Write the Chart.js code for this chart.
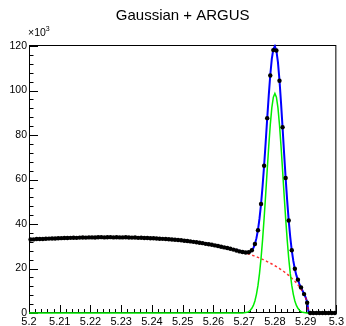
<!DOCTYPE html>
<html>
<head>
<meta charset="utf-8">
<script src="https://cdn.jsdelivr.net/npm/chart.js@4.4.1/dist/chart.umd.min.js"></script>
<style>
  html, body { margin: 0; padding: 0; background: #fff; }
  #wrap { width: 346px; height: 326px; }
</style>
</head>
<body>
<div id="wrap"><canvas id="myChart" width="346" height="326"></canvas></div>
<script>
// histogram: 100 bins of width 0.001 between 5.2 and 5.3, events in units of 1e3
const xMin = 5.2;
const binWidth = 0.001;
const counts = [
  33.05, 33.1, 33.25, 33.3, 33.3, 33.4, 33.45, 33.5, 33.5, 33.6,
  33.65, 33.7, 33.7, 33.8, 33.85, 33.8, 33.9, 33.95, 33.9, 34.0,
  34.0, 33.95, 34.05, 34.1, 34.0, 34.05, 34.1, 34.0, 34.05, 34.0,
  34.0, 34.05, 33.95, 33.9, 33.95, 33.8, 33.85, 33.7, 33.7, 33.6,
  33.6, 33.5, 33.4, 33.35, 33.25, 33.15, 33.05, 32.95, 32.8, 32.7,
  32.5, 32.4, 32.2, 32.0, 31.8, 31.6, 31.4, 31.1, 30.9, 30.7,
  30.4, 30.1, 29.8, 29.5, 29.2, 28.9, 28.5, 28.1, 27.7, 27.4,
  27.2, 27.3, 28.2, 31.0, 37.2, 49.0, 66.2, 87.6, 106.8, 118.2,
  118.0, 104.4, 83.5, 60.7, 41.6, 28.2, 19.9, 15.0, 11.5, 8.5,
  4.6, 0, 0, 0, 0, 0, 0, 0, 0, 0
];

// fitted curves
const curveX = [
  5.200, 5.202, 5.204, 5.206, 5.208, 5.210, 5.212, 5.214, 5.216, 5.218,
  5.220, 5.222, 5.224, 5.226, 5.228, 5.230, 5.232, 5.234, 5.236, 5.238,
  5.240, 5.242, 5.244, 5.246, 5.248, 5.250, 5.252, 5.254, 5.256, 5.258,
  5.260, 5.262, 5.264, 5.266,
  5.2665, 5.2670, 5.2675, 5.2680, 5.2685, 5.2690, 5.2695, 5.2700, 5.2705, 5.2710,
  5.2715, 5.2720, 5.2725, 5.2730, 5.2735, 5.2740, 5.2745, 5.2750, 5.2755, 5.2760,
  5.2765, 5.2770, 5.2775, 5.2780, 5.2785, 5.2790, 5.2795, 5.2800, 5.2805, 5.2810,
  5.2815, 5.2820, 5.2825, 5.2830, 5.2835, 5.2840, 5.2845, 5.2850, 5.2855, 5.2860,
  5.2865, 5.2870, 5.2875, 5.2880, 5.2885, 5.2890, 5.2895, 5.2900, 5.2905, 5.2910,
  5.2915, 5.292, 5.294, 5.296, 5.298, 5.300
];
const totalY = [
  33.0, 33.15, 33.3, 33.4, 33.5, 33.6, 33.7, 33.8, 33.85, 33.9,
  34.0, 34.0, 34.05, 34.05, 34.05, 34.0, 33.95, 33.9, 33.8, 33.7,
  33.6, 33.45, 33.3, 33.1, 32.9, 32.6, 32.3, 31.9, 31.5, 31.1,
  30.6, 30.05, 29.45, 28.8,
  28.6, 28.45, 28.3, 28.1, 27.9, 27.65, 27.5, 27.35, 27.2, 27.1,
  27.15, 27.5, 28.15, 29.2, 30.95, 33.65, 37.4, 42.5, 49.0, 57.1,
  66.35, 76.65, 87.4, 97.75, 107.0, 114.25, 118.65, 119.95, 117.85, 112.65,
  104.6, 94.5, 83.35, 71.75, 60.65, 50.5, 41.5, 34.1, 28.05, 23.4,
  19.7, 16.9, 14.8, 13.0, 11.4, 10.0, 8.65, 7.05, 4.95, 0,
  0, 0, 0, 0, 0, 0
];
const argusY = [
  33.0, 33.15, 33.3, 33.4, 33.5, 33.6, 33.7, 33.8, 33.85, 33.9,
  34.0, 34.0, 34.05, 34.05, 34.05, 34.0, 33.95, 33.9, 33.8, 33.7,
  33.6, 33.45, 33.3, 33.1, 32.9, 32.6, 32.3, 31.9, 31.5, 31.1,
  30.6, 30.05, 29.45, 28.8,
  28.6, 28.45, 28.3, 28.1, 27.9, 27.65, 27.45, 27.25, 27.0, 26.8,
  26.55, 26.3, 26.05, 25.8, 25.55, 25.25, 25.0, 24.7, 24.4, 24.1,
  23.75, 23.45, 23.1, 22.75, 22.4, 22.05, 21.65, 21.25, 20.85, 20.45,
  20.0, 19.5, 19.05, 18.55, 18.05, 17.5, 16.9, 16.3, 15.65, 15.0,
  14.3, 13.5, 12.7, 11.8, 10.8, 9.7, 8.45, 6.95, 4.9, 0,
  0, 0, 0, 0, 0, 0
];
const gaussY = [
  0, 0, 0, 0, 0, 0, 0, 0, 0, 0,
  0, 0, 0, 0, 0, 0, 0, 0, 0, 0,
  0, 0, 0, 0, 0, 0, 0, 0, 0, 0,
  0, 0, 0, 0,
  0, 0, 0, 0, 0, 0, 0.05, 0.1, 0.2, 0.3,
  0.6, 1.2, 2.1, 3.4, 5.4, 8.4, 12.4, 17.8, 24.6, 33.0,
  42.6, 53.2, 64.3, 75.0, 84.6, 92.2, 97.0, 98.7, 97.0, 92.2,
  84.6, 75.0, 64.3, 53.2, 42.6, 33.0, 24.6, 17.8, 12.4, 8.4,
  5.4, 3.4, 2.1, 1.2, 0.6, 0.3, 0.2, 0.1, 0.05, 0,
  0, 0, 0, 0, 0, 0
];

const xTickValues = [5.2, 5.21, 5.22, 5.23, 5.24, 5.25, 5.26, 5.27, 5.28, 5.29, 5.3];
const yTickValues = [0, 20, 40, 60, 80, 100, 120];
const chartTitle = 'Gaussian + ARGUS';

const family = "'Liberation Sans', Arial, Helvetica, sans-serif";

const binPoints = counts.map((c, i) => ({ x: xMin + (i + 0.5) * binWidth, y: c }));
const toPts = ys => curveX.map((x, i) => ({ x: x, y: ys[i] }));

// ROOT style frame with ticks pointing inwards, title and the x10^3 tag
const rootFrame = {
  id: 'rootFrame',
  beforeDatasetsDraw(chart) {
    const { ctx, chartArea: a, scales: { x, y } } = chart;
    ctx.save();
    ctx.strokeStyle = '#000';
    ctx.lineWidth = 1;
    ctx.strokeRect(a.left + 0.5, a.top + 0.5, a.right - a.left - 1, a.bottom - a.top - 1);
    ctx.beginPath();
    xTickValues.forEach((v, i) => {
      const px = Math.round(x.getPixelForValue(v)) + 0.5;
      ctx.moveTo(px, a.bottom);
      ctx.lineTo(px, a.bottom - 8);
      if (i < xTickValues.length - 1) {
        const step = (xTickValues[i + 1] - v) / 5;
        for (let k = 1; k < 5; k++) {
          const m = Math.round(x.getPixelForValue(v + k * step)) + 0.5;
          ctx.moveTo(m, a.bottom);
          ctx.lineTo(m, a.bottom - 4);
        }
      }
    });
    yTickValues.forEach((v, i) => {
      const py = Math.round(y.getPixelForValue(v)) + 0.5;
      ctx.moveTo(a.left, py);
      ctx.lineTo(a.left + 9, py);
      if (i < yTickValues.length - 1) {
        const step = (yTickValues[i + 1] - v) / 5;
        for (let k = 1; k < 5; k++) {
          const m = Math.round(y.getPixelForValue(v + k * step)) + 0.5;
          ctx.moveTo(a.left, m);
          ctx.lineTo(a.left + 4.5, m);
        }
      }
    });
    ctx.stroke();
    ctx.restore();
  },
  afterDraw(chart) {
    const { ctx, chartArea: a } = chart;
    ctx.save();
    ctx.fillStyle = '#000';
    ctx.textBaseline = 'alphabetic';
    ctx.textAlign = 'center';
    ctx.font = '15px ' + family;
    ctx.fillText(chartTitle, (a.left + a.right) / 2, 20);
    ctx.textAlign = 'left';
    ctx.font = '10.5px ' + family;
    ctx.fillText('\u00d710', a.left - 1, 36);
    const w = ctx.measureText('\u00d710').width;
    ctx.font = '7px ' + family;
    ctx.fillText('3', a.left - 1 + w, 31);
    ctx.restore();
  }
};

const ctx = document.getElementById('myChart').getContext('2d');
const myChart = new Chart(ctx, {
  type: 'scatter',
  data: {
    datasets: [
      { type: 'scatter', label: 'data', data: binPoints, pointRadius: 2.2, pointBackgroundColor: '#000',
        pointBorderWidth: 0, order: 0, clip: false },
      { type: 'scatter', label: 'bins', data: binPoints, pointStyle: 'line', pointRadius: 1.54,
        pointBorderColor: '#000', pointBorderWidth: 1.5, order: 1, clip: false },
      { type: 'line', label: 'gauss', data: toPts(gaussY), borderColor: '#00ee00', borderWidth: 1.5,
        pointRadius: 0, tension: 0, order: 2, clip: false },
      { type: 'line', label: 'argus', data: toPts(argusY), borderColor: 'rgba(255,0,0,0.8)', borderWidth: 1.5,
        borderDash: [2.5, 2.5], pointRadius: 0, tension: 0, order: 3, clip: false },
      { type: 'line', label: 'total', data: toPts(totalY), borderColor: '#0000ff', borderWidth: 2,
        pointRadius: 0, tension: 0, order: 4, clip: false }
    ]
  },
  options: {
    responsive: false,
    animation: false,
    events: [],
    layout: { padding: { left: 0, right: 9, top: 45, bottom: 0 } },
    plugins: { legend: { display: false }, tooltip: { enabled: false }, title: { display: false } },
    scales: {
      x: {
        type: 'linear', min: 5.2, max: 5.3,
        grid: { display: false, drawTicks: false },
        border: { display: false },
        afterFit: s => { s.height = 13; },
        afterBuildTicks: s => { s.ticks = xTickValues.map(v => ({ value: v })); },
        ticks: {
          autoSkip: false, maxRotation: 0, minRotation: 0, padding: 2, color: '#000',
          font: { family: family, size: 11 },
          callback: v => String(+v.toFixed(2))
        }
      },
      y: {
        type: 'linear', min: 0, max: 120.5,
        grid: { display: false, drawTicks: false },
        border: { display: false },
        afterFit: s => { s.width = 29; },
        afterBuildTicks: s => { s.ticks = yTickValues.map(v => ({ value: v })); },
        ticks: {
          autoSkip: false, padding: 2, color: '#000',
          font: { family: family, size: 10.5 },
          callback: v => String(v)
        }
      }
    }
  },
  plugins: [rootFrame]
});
</script>
</body>
</html>
